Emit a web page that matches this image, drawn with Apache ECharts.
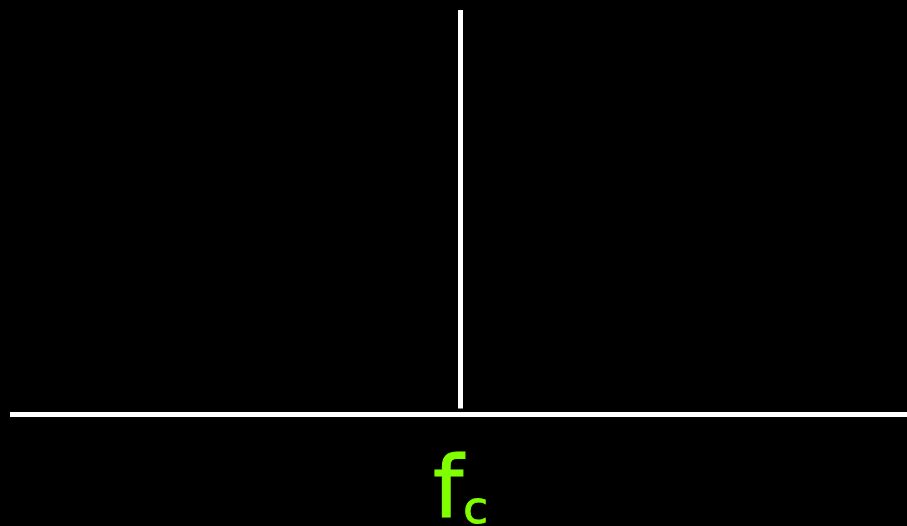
<!DOCTYPE html>
<html>
<head>
<meta charset="utf-8">
<script src="https://cdn.jsdelivr.net/npm/echarts@6/dist/echarts.min.js"></script>
<style>
  html, body { margin: 0; padding: 0; background: #000; }
  #chart { width: 907px; height: 526px; }
</style>
</head>
<body>
<div id="chart"></div>
<script>
// Single spectral line at the carrier frequency f_c
const carrierFreq = 0.5;          // position on a normalised frequency axis
const lineAmplitude = [1.5, 100]; // spectral line runs from just above the axis to full scale
const tickLabelMain = 'f';
const tickLabelSub = 'c';

const chart = echarts.init(document.getElementById('chart'));

chart.setOption({
  backgroundColor: '#000',
  animation: false,
  grid: { left: 10, right: -4, top: 10, bottom: 111.5, outerBoundsMode: 'none', containLabel: false },
  xAxis: {
    type: 'value',
    min: 0,
    max: 1,
    axisLine: { show: true, lineStyle: { color: '#fff', width: 5, cap: 'butt' } },
    axisTick: { show: false },
    splitLine: { show: false },
    axisLabel: {
      customValues: [carrierFreq],
      margin: 37,
      formatter: () => '{f|' + tickLabelMain + '}{c|' + tickLabelSub + '}',
      rich: {
        f: { fontFamily: 'DejaVu Sans', fontSize: 86, color: '#80ff00', verticalAlign: 'bottom', textStrokeWidth: 1, textBorderColor: '#80ff00', textBorderWidth: 1 },
        c: { fontFamily: 'DejaVu Sans', fontSize: 45, color: '#80ff00', verticalAlign: 'bottom', padding: [0, 0, 4, 0], textBorderColor: '#80ff00', textBorderWidth: 1 }
      }
    }
  },
  yAxis: {
    type: 'value',
    min: 0,
    max: 100,
    show: false
  },
  series: [{
    type: 'line',
    data: lineAmplitude.map(v => [carrierFreq, v]),
    symbol: 'none',
    lineStyle: { color: '#fff', width: 5, cap: 'butt' }
  }]
});
</script>
</body>
</html>
